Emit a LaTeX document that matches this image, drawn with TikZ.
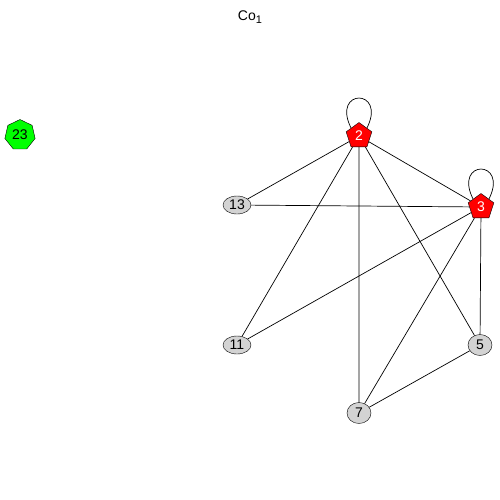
\documentclass[tikz,border=0pt]{standalone}
\usepackage{fontspec}
\setmainfont{Liberation Sans}
\usetikzlibrary{shapes.geometric}
\begin{document}
\begin{tikzpicture}[x=1pt,y=-1pt,
  every node/.style={font=\fontsize{14}{14}\selectfont, inner sep=0pt},
  gnode/.style={ellipse, draw, fill={rgb,255:red,211;green,211;blue,211}, minimum width=28, minimum height=18},
  rnode/.style={regular polygon, regular polygon sides=5, draw, fill=red, text=white, minimum size=27},
  hnode/.style={regular polygon, regular polygon sides=7, draw, fill={rgb,255:red,0;green,255;blue,0}, minimum size=31},
  edge/.style={draw, line width=0.7pt}]
\useasboundingbox (0,0) rectangle (500,500);
\node (title) at (250,17) {Co\raisebox{-3pt}{\fontsize{11}{11}\selectfont 1}};
\node[hnode] (n23) at (20,135) {23};
\node[rnode] (n2) at (359,136) {2};
\node[rnode] (n3) at (481,207) {3};
\node[gnode] (n13) at (237,205) {13};
\node[gnode] (n11) at (237,345) {11};
\node[gnode, minimum width=24, minimum height=21] (n5) at (480,345) {5};
\node[gnode, minimum width=24, minimum height=21] (n7) at (359,413) {7};
\path[edge] (n2) -- (n13);
\path[edge] (n2) -- (n3);
\path[edge] (n2) -- (n11);
\path[edge] (n2) -- (n7);
\path[edge] (n2) -- (n5);
\path[edge] (n3) -- (n13);
\path[edge] (n3) -- (n11);
\path[edge] (n3) -- (n7);
\path[edge] (n3) -- (n5);
\path[edge] (n5) -- (n7);
\path[edge] (n2.135) .. controls +(-20,-40) and +(20,-40) .. (n2.45);
\path[edge] (n3.135) .. controls +(-20,-40) and +(20,-40) .. (n3.45);
\end{tikzpicture}
\end{document}
